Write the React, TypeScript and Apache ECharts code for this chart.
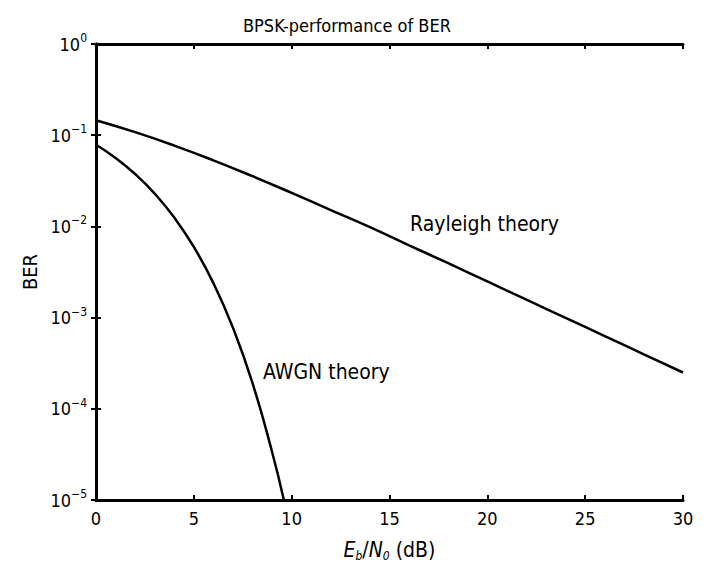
import React, { useEffect, useRef } from "react";
import * as echarts from "echarts";

const ebn0Rayleigh = [0, 2, 4, 6, 8, 10, 12, 14, 16, 18, 20, 22, 24, 26, 28, 30];
const berRayleigh = [0.146, 0.108, 0.077, 0.053, 0.0355, 0.0233, 0.0151, 0.0098, 0.0062, 0.00395, 0.00249, 0.00157, 0.000995, 0.000628, 0.000396, 0.00025];
const ebn0Awgn = [0, 1, 2, 3, 4, 5, 6, 7, 8, 9, 9.6];
const berAwgn = [0.0786, 0.0563, 0.0375, 0.0229, 0.0125, 0.00595, 0.00239, 0.000773, 0.000191, 0.0000336, 0.00001];
const xTicks = [0, 5, 10, 15, 20, 25, 30];
const titleText = "BPSK-performance of BER";
const yName = "BER";
const labelRayleigh = "Rayleigh theory";
const labelAwgn = "AWGN theory";

const FONT = "'DejaVu Sans Condensed', 'Liberation Sans', sans-serif";

export default function App() {
  const ref = useRef<HTMLDivElement>(null);
  useEffect(() => {
    const chart = echarts.init(ref.current!, null, { renderer: "svg" });
    const yLabelFmt = (v: number) => {
      const e = Math.round(Math.log10(v));
      return e === 0 ? "10{sup|0}" : `10{sup|−${-e}}`;
    };
    const axisBase = {
      axisLine: { show: true, lineStyle: { color: "#000", width: 3 } },
      axisTick: { show: true, inside: true, length: 5, lineStyle: { color: "#000", width: 2 } },
      splitLine: { show: false },
    };
    chart.setOption({
      animation: false,
      backgroundColor: "#fff",
      title: {
        text: titleText,
        left: 238,
        top: 11,
        textStyle: { fontFamily: FONT, fontSize: 18, fontWeight: "normal", color: "#000" },
      },
      grid: { left: 96, top: 44, right: 22, bottom: 62 },
      xAxis: [
        {
          type: "value",
          min: 0,
          max: 30,
          interval: 5,
          ...axisBase,
          axisLabel: {
            color: "#000",
            fontFamily: FONT,
            fontSize: 18,
            margin: 9,
            formatter: (v: number) => (xTicks.includes(v) ? String(v) : ""),
          },
          name: "{i|E}{sub|b}{n|/}{i|N}{sub|0}{n| (dB)}",
          nameLocation: "middle",
          nameGap: 37,
          nameTextStyle: {
            rich: {
              i: { fontFamily: FONT, fontSize: 21, fontStyle: "italic", color: "#000" },
              n: { fontFamily: FONT, fontSize: 21, color: "#000" },
              sub: { fontFamily: FONT, fontSize: 12, fontStyle: "italic", color: "#000", verticalAlign: "top", padding: [13, 0, 0, 0] },
            },
          },
        },
        {
          type: "value",
          position: "top",
          min: 0,
          max: 30,
          interval: 5,
          ...axisBase,
          axisLabel: { show: false },
        },
      ],
      yAxis: [
        {
          type: "log",
          logBase: 10,
          min: 1e-5,
          max: 1,
          ...axisBase,
          axisLabel: {
            color: "#000",
            fontFamily: FONT,
            fontSize: 18,
            margin: 9,
            formatter: yLabelFmt,
            rich: {
              sup: { fontFamily: FONT, fontSize: 12, color: "#000", verticalAlign: "bottom", padding: [0, 0, 12, 0] },
            },
          },
          name: yName,
          nameLocation: "middle",
          nameGap: 53,
          nameTextStyle: { fontFamily: FONT, fontSize: 20, color: "#000" },
        },
        {
          type: "log",
          logBase: 10,
          min: 1e-5,
          max: 1,
          position: "right",
          ...axisBase,
          axisLabel: { show: false },
        },
      ],
      series: [
        {
          type: "line",
          data: ebn0Rayleigh.map((x, i) => [x, berRayleigh[i]]),
          smooth: true,
          showSymbol: false,
          lineStyle: { color: "#000", width: 2.5 },
          xAxisIndex: 0,
          yAxisIndex: 0,
        },
        {
          type: "line",
          data: ebn0Awgn.map((x, i) => [x, berAwgn[i]]),
          smooth: true,
          showSymbol: false,
          lineStyle: { color: "#000", width: 2.5 },
          xAxisIndex: 0,
          yAxisIndex: 0,
        },
      ],
      graphic: [
        {
          type: "text",
          left: 410,
          top: 213,
          style: { text: labelRayleigh, fontFamily: FONT, fontSize: 21, fill: "#000" },
        },
        {
          type: "text",
          left: 263,
          top: 361,
          style: { text: labelAwgn, fontFamily: FONT, fontSize: 21, fill: "#000" },
        },
      ],
    });
    return () => chart.dispose();
  }, []);
  return <div ref={ref} style={{ width: 705, height: 567, position: "absolute", left: 0, top: 0 }} />;
}
